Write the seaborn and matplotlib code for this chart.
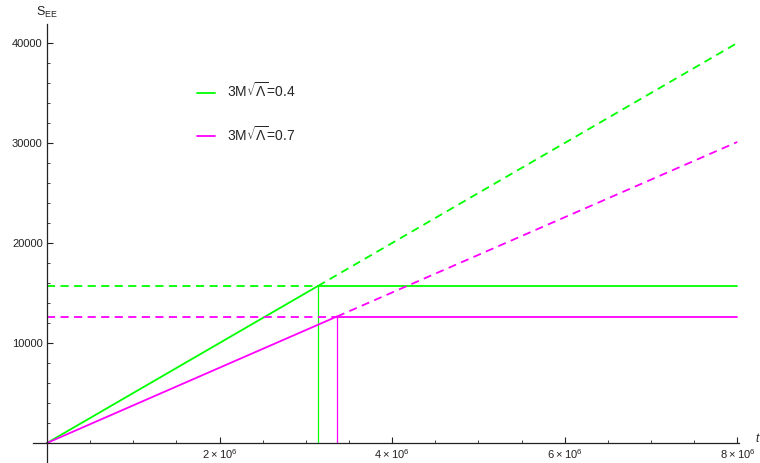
import numpy as np
import matplotlib
matplotlib.use("Agg")
import matplotlib.pyplot as plt
import seaborn as sns
from matplotlib.ticker import FixedLocator, MultipleLocator

# data
labels = [r"3M$\sqrt{\Lambda}$=0.4", r"3M$\sqrt{\Lambda}$=0.7"]
colors = ["#00ff00", "#ff00ff"]
t_end = 8.0e6
s_end = [40000, 30100]          # linear growth value at t_end
plateau = [15700, 12650]        # saturation level
t_page = [3.14e6, 3.36e6]       # crossing time

x_ticks = [2e6, 4e6, 6e6, 8e6]
x_tick_labels = [r"$2\times10^{6}$", r"$4\times10^{6}$", r"$6\times10^{6}$", r"$8\times10^{6}$"]
y_ticks = [10000, 20000, 30000, 40000]


def main():
    sns.set_style("white")
    plt.rcParams["font.family"] = ["Liberation Sans", "DejaVu Sans"]
    plt.rcParams["mathtext.default"] = "regular"

    fig = plt.figure(figsize=(7.6, 4.63), dpi=100)
    ax = fig.add_axes([33 / 760, 0, (739 - 33) / 760, (463 - 24) / 463])

    for lab, col, se, pl, tp in zip(labels, colors, s_end, plateau, t_page):
        slope = se / t_end
        # solid: growth then saturation
        sns.lineplot(x=[0, tp], y=[0, pl], color=col, lw=1.3, estimator=None, ax=ax, label=lab)
        sns.lineplot(x=[tp, t_end], y=[pl, pl], color=col, lw=1.3, estimator=None, ax=ax)
        # dashed continuations
        sns.lineplot(x=[0, tp], y=[pl, pl], color=col, lw=1.3, estimator=None, ax=ax,
                     linestyle=(0, (4.5, 3)))
        sns.lineplot(x=[tp, t_end], y=[slope * tp, se], color=col, lw=1.3, estimator=None, ax=ax,
                     linestyle=(0, (4.5, 3)))
        # thin vertical marker
        sns.lineplot(x=[tp, tp], y=[0, pl], color=col, lw=0.9, estimator=None, ax=ax, sort=False)

    ax.set_xlim(-1.62e5, 8.02e6)
    ax.set_ylim(-2000, 41900)

    for side in ["top", "right"]:
        ax.spines[side].set_visible(False)
    for side in ["left", "bottom"]:
        ax.spines[side].set_position(("data", 0))
        ax.spines[side].set_linewidth(0.9)
        ax.spines[side].set_color("#222222")

    ax.xaxis.set_major_locator(FixedLocator(x_ticks))
    ax.set_xticklabels(x_tick_labels)
    ax.xaxis.set_minor_locator(MultipleLocator(5e5))
    ax.yaxis.set_major_locator(FixedLocator(y_ticks))
    ax.yaxis.set_minor_locator(MultipleLocator(2000))
    ax.tick_params(which="both", direction="in", bottom=True, left=True,
                   colors="#222222", labelsize=8, pad=3)
    ax.tick_params(which="major", length=4, width=0.8)
    ax.tick_params(which="minor", length=2.5, width=0.6)
    for lbl in ax.get_xticklabels() + ax.get_yticklabels():
        lbl.set_color("#222222")
    ax.grid(False)

    fig.text(47 / 760, 1 - 12 / 463, r"$S_{EE}$", ha="center", va="center", fontsize=9,
             color="#222222")
    fig.text(755 / 760, 1 - 439 / 463, "t", ha="left", va="center", fontsize=8.5,
             color="#222222", style="italic")

    ax.legend(loc="upper left", bbox_to_anchor=(184 / 760, 1 - 69 / 463),
              bbox_transform=fig.transFigure, frameon=False, fontsize=10,
              handlelength=1.3, handletextpad=0.9, labelspacing=1.78)

    fig.savefig("out.png", dpi=100)
    plt.close(fig)


if __name__ == "__main__":
    main()
